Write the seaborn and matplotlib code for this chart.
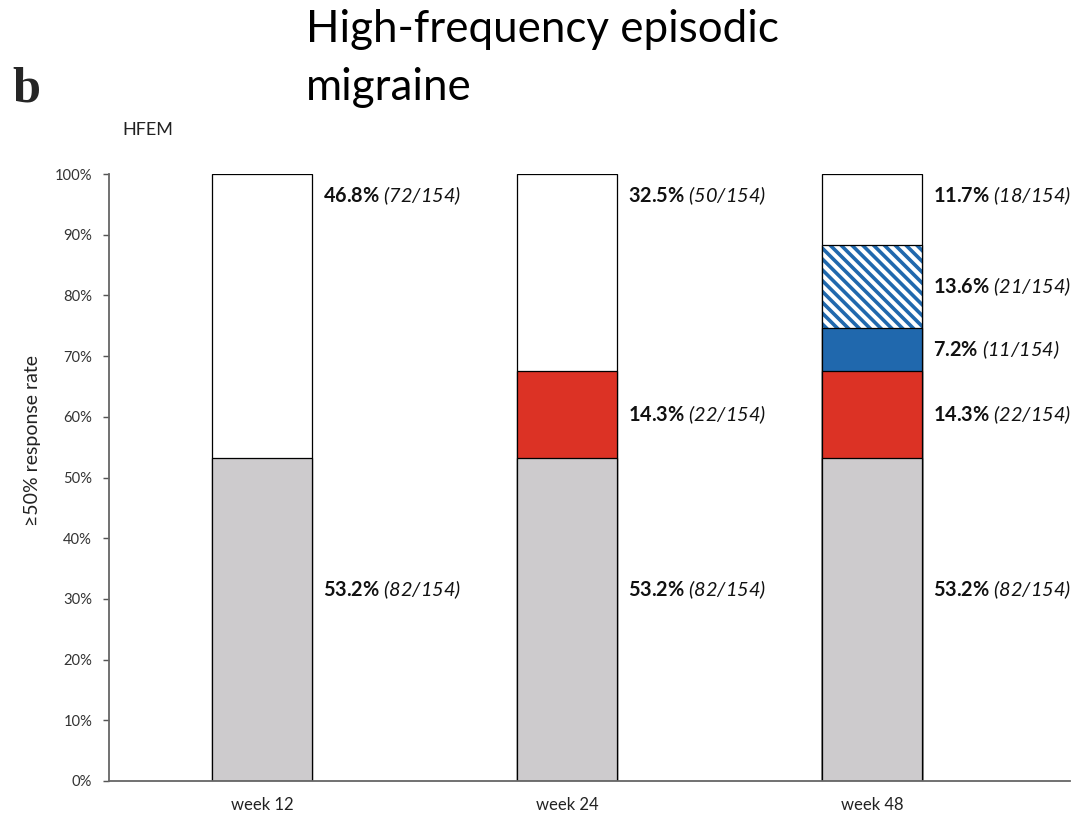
import numpy as np
import pandas as pd
import seaborn as sns
import matplotlib.pyplot as plt

# Data ------------------------------------------------------------
weeks = ['week 12', 'week 24', 'week 48']
layers = ['grey', 'red', 'blue', 'hatched', 'white']   # bottom -> top
total_n = 154

# percent per layer per week (0 = segment not shown)
pct_grey = [53.2, 53.2, 53.2]
pct_red = [0, 14.3, 14.3]
pct_blue = [0, 0, 7.2]
pct_hatched = [0, 0, 13.6]
pct_white = [46.8, 32.5, 11.7]

n_grey = [82, 82, 82]
n_red = [0, 22, 22]
n_blue = [0, 0, 11]
n_hatched = [0, 0, 21]
n_white = [72, 50, 18]

# Styling ---------------------------------------------------------
DPI = 130
FONT = 'Lato'
fill_colors = {'grey': '#cdcbcd', 'red': '#dc3225', 'blue': '#2068ad',
               'hatched': 'white', 'white': 'white'}
hatch_blue = '#2068ad'
bar_w = 0.328

sns.set_theme(style='white')
plt.rcParams['font.family'] = [FONT, 'DejaVu Sans']
plt.rcParams['hatch.linewidth'] = 2.0
# bold + italic in one label through mathtext (rm mapped to italic so digits slant)
plt.rcParams['mathtext.fontset'] = 'custom'
plt.rcParams['mathtext.rm'] = FONT + ':italic'
plt.rcParams['mathtext.it'] = FONT + ':italic'
plt.rcParams['mathtext.bf'] = FONT + ':bold'

# Build long table with cumulative tops
pcts = {'grey': pct_grey, 'red': pct_red, 'blue': pct_blue,
        'hatched': pct_hatched, 'white': pct_white}
ns = {'grey': n_grey, 'red': n_red, 'blue': n_blue,
      'hatched': n_hatched, 'white': n_white}
rows = []
for i, w in enumerate(weeks):
    bottom = 0.0
    for layer in layers:
        p = pcts[layer][i]
        if p > 0:
            rows.append({'week': w, 'pos': i, 'layer': layer, 'pct': p,
                         'n': ns[layer][i], 'bottom': bottom, 'top': bottom + p})
            bottom += p
df = pd.DataFrame(rows)

fig = plt.figure(figsize=(1073 / DPI, 815 / DPI), dpi=DPI)
ax = fig.add_axes([109 / 1073, 34 / 815, 961 / 1073, 607 / 815])

# draw cumulative bars from the top layer down so each one overlays the next
for layer in reversed(layers):
    sub = df[df['layer'] == layer]
    if layer == 'hatched':
        sns.barplot(data=sub, x='week', y='top', order=weeks, color='white',
                    saturation=1, width=bar_w, hatch='\\\\\\\\', edgecolor=hatch_blue,
                    linewidth=0, errorbar=None, ax=ax)
        sns.barplot(data=sub, x='week', y='top', order=weeks, color='black',
                    fill=False, width=bar_w, linewidth=0.7, errorbar=None, ax=ax)
    else:
        sns.barplot(data=sub, x='week', y='top', order=weeks,
                    color=fill_colors[layer], saturation=1, width=bar_w,
                    edgecolor='black', linewidth=0.7, errorbar=None, ax=ax)

# segment labels: bold percent + italic count
for _, r in df.iterrows():
    if r['layer'] == 'grey':
        y = 31.5
    elif r['layer'] == 'white':
        y = 96.5
    else:
        y = r['bottom'] + r['pct'] / 2
    label = (r'$\mathbf{' + f"{r['pct']:.1f}" + r'\%}$ $\mathrm{('
             + f"{r['n']}/{total_n}" + r')}$')
    ax.text(r['pos'] + bar_w / 2 + 0.036, y, label, fontsize=11,
            va='center', ha='left', color='#111111')

ax.set_xlim(-0.502, 2.65)
ax.set_ylim(0, 100)
ax.set_yticks(np.arange(0, 101, 10))
ax.set_yticklabels([f'{v}%' for v in range(0, 101, 10)])
ax.set_xlabel('')
ax.set_ylabel('')
ax.tick_params(axis='y', length=3.3, width=0.8, color='#555555', pad=6,
               labelsize=8.2, labelcolor='#333333', left=True)
ax.tick_params(axis='x', length=0, pad=9, labelsize=9.2, labelcolor='#222222')
for s in ['top', 'right']:
    ax.spines[s].set_visible(False)
for s in ['left', 'bottom']:
    ax.spines[s].set_color('#666666')
    ax.spines[s].set_linewidth(1.0)

# figure texts
fig.text(306 / 1073, 1 - 100 / 815, 'High-frequency episodic\nmigraine',
         fontsize=24.3, va='baseline', ha='left', linespacing=1.5, color='black')
fig.text(12 / 1073, 1 - 101 / 815, 'b', fontsize=28, fontweight='bold',
         family='Liberation Serif', va='baseline', ha='left')
fig.text(122 / 1073, 1 - 135 / 815, 'HFEM', fontsize=10, va='baseline',
         ha='left', color='#222222')
fig.text(33 / 1073, 1 - 441 / 815, '≥50% response rate', fontsize=10.8,
         rotation=90, va='center', ha='center', color='#222222')

fig.savefig('out.png', dpi=DPI)
